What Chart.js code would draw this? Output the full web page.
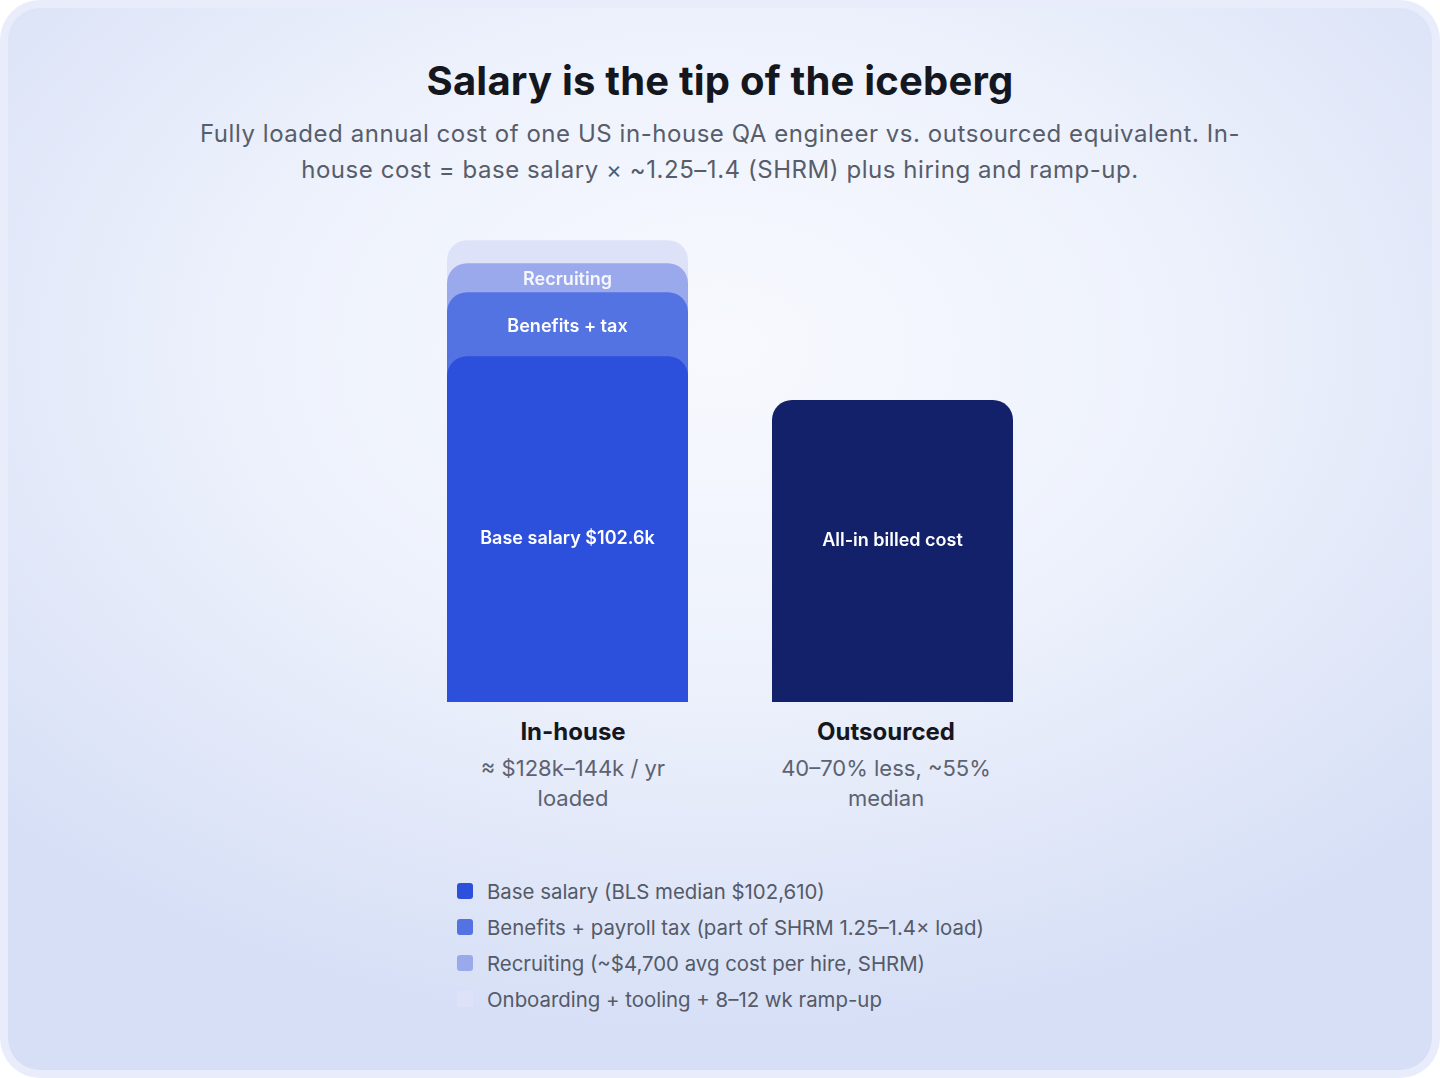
<!DOCTYPE html>
<html>
<head>
<meta charset="utf-8">
<script src="https://cdn.jsdelivr.net/npm/chart.js@4"></script>
<style>
  html, body { margin: 0; padding: 0; background: #ffffff; }
  body { width: 1440px; height: 1078px; position: relative; overflow: hidden; font-family: 'Inter', 'Noto Sans', sans-serif; }
  .frame { position: absolute; left: 0; top: 0; width: 1440px; height: 1078px; box-sizing: border-box; border-radius: 40px; background: #e9edfb; }
  .card { position: absolute; left: 8px; top: 8px; width: 1424px; height: 1062px; border-radius: 32px;
    background: radial-gradient(ellipse 70% 65% at 50% 32%, #f7f9fe 0%, #eef2fc 45%, #dfe6f8 80%, #d6dff6 100%); }
  h1 { position: absolute; top: 56px; left: 0; width: 1440px; margin: 0; text-align: center; font-size: 40px; font-weight: 700; color: #15171f; letter-spacing: 0.2px; }
  .sub { position: absolute; top: 116px; left: 180px; width: 1080px; margin: 0; text-align: center; font-size: 24px; line-height: 36px; color: #575d6b; letter-spacing: 0.55px; }
  #wrap { position: absolute; left: 405px; top: 220px; width: 650px; height: 482px; }
  .cat { position: absolute; top: 715px; width: 300px; text-align: center; }
  .cat b { display: block; font-size: 24px; line-height: 34px; color: #15171f; font-weight: 700; }
  .cat span { display: block; font-size: 22px; line-height: 30px; color: #5d6270; margin-top: 4px; }
  .legend { position: absolute; left: 457px; top: 873px; }
  .legend div { height: 36px; display: flex; align-items: center; font-size: 20.4px; color: #545a68; }
  .legend i { display: inline-block; width: 16px; height: 16px; border-radius: 3px; margin-right: 14px; }
</style>
</head>
<body>
<div class="frame"></div>
<div class="card"></div>
<h1>Salary is the tip of the iceberg</h1>
<p class="sub">Fully loaded annual cost of one US in-house QA engineer vs. outsourced equivalent. In-house cost = base salary × ~1.25–1.4 (SHRM) plus hiring and ramp-up.</p>
<div id="wrap"><canvas id="chart"></canvas></div>
<div class="cat" style="left:423px"><b>In-house</b><span>≈ $128k–144k / yr<br>loaded</span></div>
<div class="cat" style="left:736px"><b>Outsourced</b><span>40–70% less, ~55%<br>median</span></div>
<div class="legend" id="legend"></div>
<script>
// 데이터 ($k)
const categories = ['In-house', 'Outsourced'];
const segmentNames = ['Base salary', 'Benefits + tax', 'Recruiting', 'Onboarding'];
const segmentLabels = ['Base salary $102.6k', 'Benefits + tax', 'Recruiting', ''];
const inHouseSegments = [102.6, 19.0, 8.6, 6.8];
const outsourcedValue = [89.6];
const outsourcedLabel = 'All-in billed cost';
const legendLabels = [
    'Base salary (BLS median $102,610)',
    'Benefits + payroll tax (part of SHRM 1.25–1.4× load)',
    'Recruiting (~$4,700 avg cost per hire, SHRM)',
    'Onboarding + tooling + 8–12 wk ramp-up'
];
const segmentColors = ['#2c4fdc', '#5473e3', '#9aa9ec', '#dde2f8'];
const outsourcedColor = '#13216a';

// 범례
const legendEl = document.getElementById('legend');
legendLabels.forEach((text, i) => {
    const row = document.createElement('div');
    row.innerHTML = `<i style="background:${segmentColors[i]}"></i>${text}`;
    legendEl.appendChild(row);
});

// 누적 높이 (뒤에서 겹쳐 그리기)
let running = 0;
const cumulative = inHouseSegments.map(v => (running += v));

const datasets = inHouseSegments.map((v, i) => ({
    label: segmentNames[i],
    data: [cumulative[i], null],
    backgroundColor: segmentColors[i],
    order: i,
    borderRadius: { topLeft: 20, topRight: 20 },
    borderSkipped: 'start'
}));
datasets.push({
    label: 'Outsourced',
    data: [null, outsourcedValue[0]],
    backgroundColor: outsourcedColor,
    order: 0,
    borderRadius: { topLeft: 20, topRight: 20 },
    borderSkipped: 'start'
});

// 막대 안 텍스트
const insideLabels = {
    id: 'insideLabels',
    afterDatasetsDraw(chart) {
        const ctx = chart.ctx;
        ctx.save();
        ctx.textAlign = 'center';
        ctx.textBaseline = 'middle';
        ctx.fillStyle = '#ffffff';
        ctx.font = '600 18px Inter, sans-serif';
        segmentLabels.forEach((text, i) => {
            if (!text) return;
            const bar = chart.getDatasetMeta(i).data[0];
            const below = i === 0 ? bar.base : chart.getDatasetMeta(i - 1).data[0].y;
            ctx.globalAlpha = i === 2 ? 0.92 : 1;
            ctx.fillText(text, bar.x, (bar.y + below) / 2 + (i === 0 ? 10 : 2));
        });
        ctx.globalAlpha = 1;
        const ob = chart.getDatasetMeta(4).data[1];
        ctx.fillText(outsourcedLabel, ob.x, (ob.y + ob.base) / 2 - 10);
        ctx.restore();
    }
};

new Chart(document.getElementById('chart'), {
    type: 'bar',
    data: { labels: categories, datasets: datasets },
    options: {
        responsive: true,
        maintainAspectRatio: false,
        animation: false,
        layout: { padding: 0 },
        datasets: { bar: { categoryPercentage: 1, barPercentage: 0.7415 } },
        plugins: { legend: { display: false }, tooltip: { enabled: false } },
        scales: {
            x: { stacked: true, display: false },
            y: { stacked: false, display: false, min: 0, max: 143 }
        }
    },
    plugins: [insideLabels]
});
</script>
</body>
</html>
